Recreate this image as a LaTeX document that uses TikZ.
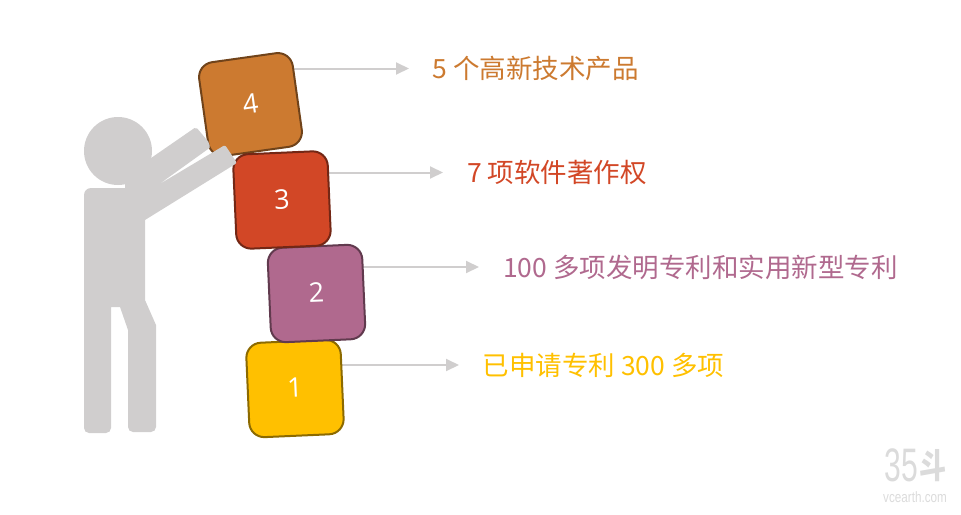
\documentclass[tikz,border=0pt]{standalone}
\usepackage{fontspec}
\setmainfont{Open Sans}
\newfontfamily\cjk{Noto Sans CJK SC}
\usetikzlibrary{arrows.meta,backgrounds}
\definecolor{cA}{HTML}{FFC000}
\definecolor{cB}{HTML}{B0698E}
\definecolor{cC}{HTML}{D24726}
\definecolor{cD}{HTML}{CC7A30}
\definecolor{fig}{HTML}{D0CECE}
\tikzset{
  blockbox/.style={rectangle,rounded corners=15pt,minimum size=94.5pt,inner sep=0pt,line width=2pt,
    text=white,font=\fontsize{27}{30}\selectfont},
  conn/.style={draw=fig,line width=2pt,-{Triangle[length=13pt,width=12pt]}},
  lab/.style={anchor=west,inner sep=0pt,font=\cjk\fontsize{26.5}{32}\selectfont},
  figure part/.style={fill=fig,draw=none},
  mark text/.style={inner sep=0pt,text=black!14,anchor=center}
}
\newcommand{\blocknum}[1]{\raisebox{2.2pt}{#1}}
\begin{document}
\begin{tikzpicture}[x=1pt,y=-1pt]
\useasboundingbox (0,0) rectangle (961,514);
% blocks
\node[blockbox,fill=cA,draw=cA!55!black,rotate=2.5] (s1) at (295,388.5) {\blocknum{1}};
\node[blockbox,fill=cB,draw=cB!55!black,rotate=2.5] (s2) at (316.5,293.5) {\blocknum{2}};
\node[blockbox,fill=cD,draw=cD!55!black,rotate=8] (s4) at (250.5,104.5) {\blocknum{4}};
\node[blockbox,fill=cC,draw=cC!55!black,rotate=2.5] (s3) at (282,200) {\blocknum{3}};
% arrow ends
\coordinate (e4) at (409,68.5);
\coordinate (e3) at (443,172.5);
\coordinate (e2) at (479,267);
\coordinate (e1) at (459,365);
\begin{scope}[on background layer]
\draw[conn] (s4.center |- e4) -- (e4);
\draw[conn] (s3.center |- e3) -- (e3);
\draw[conn] (s2.center |- e2) -- (e2);
\draw[conn] (s1.center |- e1) -- (e1);
\end{scope}
% labels
\node[lab,text=cD] (t4) at (432.5,68.5) {5 个高新技术产品};
\node[lab,text=cC] (t3) at (467,172.5) {7 项软件著作权};
\node[lab,text=cB] (t2) at (503,267.5) {100 多项发明专利和实用新型专利};
\node[lab,text=cA] (t1) at (482.5,365) {已申请专利 300 多项};
% person
\fill[figure part] (118,151) circle (34);
\fill[figure part]
  (84,300) [rounded corners=7pt] -- (84,188) -- (145,188) [sharp corners] -- (145,300) -- (156,325)
  [rounded corners=5pt] -- (156,432) -- (128,432) [sharp corners] -- (128,330) -- (120,307) -- (111,307)
  [rounded corners=5pt] -- (111,433) -- (84,433) [sharp corners] -- cycle;
% arms
\fill[figure part]
  (125,176) [rounded corners=2pt] -- (196,127) -- (209.5,143) [sharp corners] -- (209.5,148) -- (158,185)
  [rounded corners=2pt] -- (225,145) -- (237,163) [sharp corners] -- (145,220) -- (125,200) -- cycle;
% watermark
\node[mark text,font=\fontsize{47}{47}\selectfont\fontspec{Liberation Sans},xscale=0.64] (wa) at (901.5,465) {35};
\node[mark text,font=\cjk\bfseries\fontsize{34}{34}\selectfont,xscale=0.8] (wb) at (933,465.5) {斗};
\node[mark text,font=\fontsize{15}{15}\selectfont\fontspec{Liberation Sans},xscale=0.78] (wc) at (915,497) {vcearth.com};
\end{tikzpicture}
\end{document}
